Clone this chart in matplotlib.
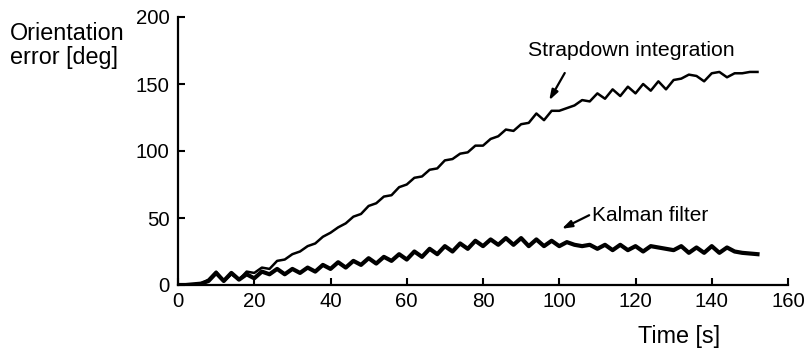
import matplotlib
matplotlib.use("Agg")
import matplotlib.pyplot as plt

plt.rcParams['font.family'] = ['Liberation Sans', 'DejaVu Sans']

# time samples [s]
t_strap = [0, 2, 4, 6, 8, 10, 12, 14, 16, 18, 20, 22, 24, 26, 28, 30, 32, 34, 36, 38,
           40, 42, 44, 46, 48, 50, 52, 54, 56, 58, 60, 62, 64, 66, 68, 70, 72, 74, 76, 78,
           80, 82, 84, 86, 88, 90, 92, 94, 96, 98, 100, 102, 104, 106, 108, 110, 112, 114,
           116, 118, 120, 122, 124, 126, 128, 130, 132, 134, 136, 138, 140, 142, 144, 146,
           148, 150, 152]
strapdown = [0, 0, 0.5, 1, 4, 10, 3, 8, 4, 10, 9, 13, 12, 18, 19, 23, 25, 29, 31, 36,
             39, 43, 46, 51, 53, 59, 61, 66, 67, 73, 75, 80, 81, 86, 87, 93, 94, 98, 99, 104,
             104, 109, 111, 116, 115, 120, 121, 128, 123, 130, 130, 132, 134, 138, 137, 143, 139, 146,
             141, 148, 143, 150, 145, 152, 146, 153, 154, 157, 156, 152, 158, 159, 155, 158,
             158, 159, 159]

t_kalman = t_strap
kalman = [0, 0, 0.5, 1, 3, 9, 3, 9, 4, 8, 5, 10, 8, 12, 8, 12, 9, 13, 10, 15,
          12, 17, 13, 18, 15, 20, 16, 21, 18, 23, 19, 25, 21, 27, 23, 29, 25, 31, 27, 33,
          29, 34, 30, 35, 30, 35, 29, 34, 29, 33, 29, 32, 30, 29, 30, 27, 30, 26,
          30, 26, 29, 25, 29, 28, 27, 26, 29, 24, 28, 24, 29, 24, 28, 25,
          24, 23.5, 23]

xticks = [0, 20, 40, 60, 80, 100, 120, 140, 160]
yticks = [0, 50, 100, 150, 200]

fig = plt.figure(figsize=(8.07, 3.52), dpi=100)
ax = fig.add_axes([178 / 807, 67 / 352, 610 / 807, 268 / 352])

ax.plot(t_strap, strapdown, color='black', lw=1.8)
ax.plot(t_kalman, kalman, color='black', lw=3.0)

ax.set_xlim(0, 160)
ax.set_ylim(0, 200)
ax.set_xticks(xticks)
ax.set_yticks(yticks)
ax.spines['top'].set_visible(False)
ax.spines['right'].set_visible(False)
for s in ['left', 'bottom']:
    ax.spines[s].set_linewidth(1.6)
ax.tick_params(direction='in', length=5, width=1.5, labelsize=14.7, pad=5)
ax.tick_params(axis='y', pad=6)

# annotations
ax.text(118.8, 175, 'Strapdown integration', fontsize=15.3, ha='center', va='center')
ax.annotate('', xy=(97, 136), xytext=(101.8, 160),
            arrowprops=dict(arrowstyle='-|>,head_width=0.2,head_length=0.6', lw=1.6, color='black'))
ax.text(108.5, 52, 'Kalman filter', fontsize=15, ha='left', va='center')
ax.annotate('', xy=(100, 41), xytext=(108.5, 53),
            arrowprops=dict(arrowstyle='-|>,head_width=0.2,head_length=0.6', lw=1.6, color='black'))

fig.text(10 / 807, 1 - 40 / 352, 'Orientation', fontsize=16.8, ha='left', va='baseline')
fig.text(10 / 807, 1 - 64 / 352, 'error [deg]', fontsize=16.8, ha='left', va='baseline')
fig.text(679 / 807, 1 - 336 / 352, 'Time [s]', fontsize=16.8, ha='center', va='center')

fig.savefig('out.png', dpi=100)
